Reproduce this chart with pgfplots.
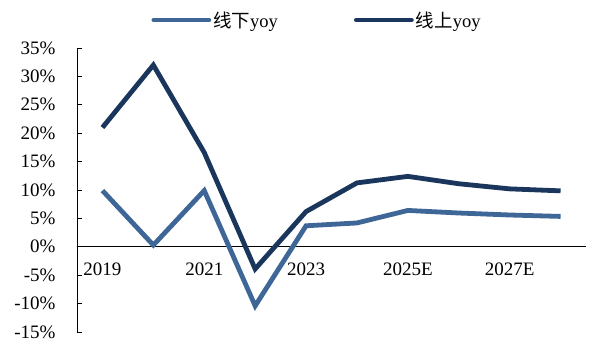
\documentclass[border=0pt]{standalone}
\usepackage{fontspec}
\setmainfont{Liberation Serif}
\newfontfamily\cjk{Noto Sans CJK SC}
\usepackage{pgfplots}
\pgfplotsset{compat=1.18}
\definecolor{offc}{HTML}{3E6696}
\definecolor{onc}{HTML}{1B365D}
\begin{document}
\begin{tikzpicture}
\begin{axis}[
  at={(0,0)}, anchor=south west,
  scale only axis, width=509pt, height=284pt,
  xmin=-0.5, xmax=9.5, ymin=-15, ymax=35,
  axis y line=left, axis x line=middle,
  axis line style={-, line width=0.8pt, black},
  xtick={0,2,4,6,8},
  xticklabels={2019,2021,2023,2025E,2027E},
  minor xtick={-0.5,0.5,...,9.5},
  x tick style={draw=none},
  minor x tick style={black, line width=0.8pt},
  minor tick length=7pt,
  xtick align=inside,
  ytick={-15,-10,...,35},
  yticklabel={\pgfmathprintnumber{\tick}\%},
  ytick align=inside,
  y tick style={black, line width=0.8pt},
  major tick length=5pt,
  /pgf/number format/assume math mode=true,
  tick label style={font=\fontsize{19}{21}\selectfont},
  xticklabel style={yshift=-13pt},
  yticklabel style={anchor=east, xshift=-18pt},
  legend columns=2,
  legend style={at={(0.4715,1.0986)}, anchor=center, draw=none, fill=none,
    font=\fontsize{18.5}{21}\selectfont,
    nodes={inner sep=2pt},
    /tikz/every even column/.append style={column sep=74pt}},
  legend image code/.code={\draw[#1, line width=4.8pt, line cap=round] (0pt,0pt) -- (55pt,0pt);},
  clip=false,
]
\addplot[offc, line width=4.8pt, line join=miter] coordinates {
(0,9.9) (1,0.3) (2,9.9) (3,-10.4) (4,3.7) (5,4.2) (6,6.4) (7,5.95) (8,5.6) (9,5.35)};
\addlegendentry{{\cjk 线下}yoy}
\addplot[onc, line width=4.8pt, line join=miter] coordinates {
(0,21.0) (1,32.0) (2,16.6) (3,-3.9) (4,6.2) (5,11.25) (6,12.4) (7,11.1) (8,10.2) (9,9.85)};
\addlegendentry{{\cjk 线上}yoy}
\end{axis}
\pgfresetboundingbox
\path[use as bounding box] (-77pt,-6pt) rectangle (513pt,332pt);
\end{tikzpicture}
\end{document}
